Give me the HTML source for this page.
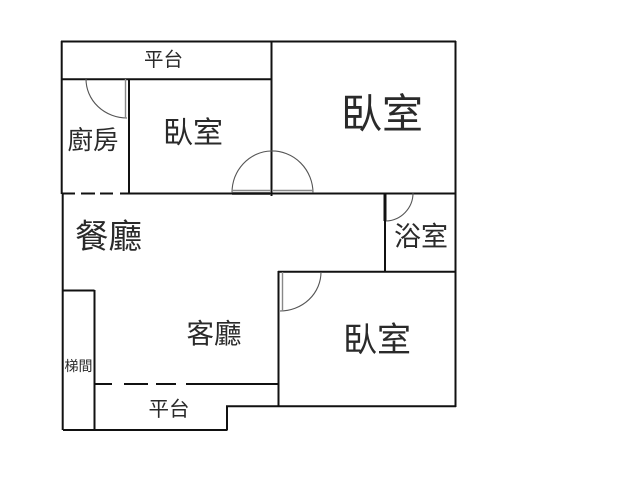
<!DOCTYPE html>
<html><head><meta charset="utf-8"><style>
html,body{margin:0;padding:0;background:#fff;width:640px;height:480px;overflow:hidden}
svg{display:block;filter:blur(.3px)}
text{font-family:"Liberation Sans","Noto Sans CJK TC",sans-serif;fill:#2a2a2a;text-anchor:middle}
</style></head><body>
<svg width="640" height="480" viewBox="0 0 640 480" xmlns="http://www.w3.org/2000/svg">
<g fill="none" stroke="#111" stroke-width="2">
<path d="M61 41.5H456M455.5 41V407M61.7 41V194M62.7 193V430M62 79.3H272M271.5 41V196M129 79V194M129 193.5H456"/>
<path d="M62 193.5H75M81 193.5H95M100 193.5H113M120 193.5H129"/>
<path d="M63 290.5H94.5M94.5 290V430M63 430H227.5M227 430V406M226 406.3H456M278.5 271V407M278 271.7H456M385 193V272"/>
<path d="M94 384H112M124 384H148M156 384H176M186 384H279"/>
<path d="M385 193V221" stroke-width="3"/>
<path d="M232 193.5H270" stroke-width="2.4"/>
</g>
<g fill="none" stroke="#555" stroke-width="1.1">
<path d="M86 79A41 39 0 0 0 127 118"/>
<path d="M232 193A40 42 0 0 1 271 151A41 42 0 0 1 313 193"/>
<path d="M413 193A28 28 0 0 1 386 221"/>
<path d="M321 272A41 39 0 0 1 280 311"/>
<path d="M125.5 79V118M232 190.5H270M273 190.5H313M282.5 272V311" stroke="#888" stroke-width="1.4"/>
</g>
<text x="163.500" y="66" font-size="19.5">平台</text>
<text x="193" y="143" font-size="30">臥室</text>
<text x="382" y="128" font-size="41">臥室</text>
<text x="93" y="149" font-size="25.500">廚房</text>
<text x="108.500" y="248" font-size="33.500">餐廳</text>
<text x="214" y="343" font-size="27.500">客廳</text>
<text x="421" y="246" font-size="27">浴室</text>
<text x="377" y="351.500" font-size="34">臥室</text>
<text x="78.500" y="371" font-size="14">梯間</text>
<text x="169" y="416" font-size="20.500">平台</text>
</svg>
</body></html>
